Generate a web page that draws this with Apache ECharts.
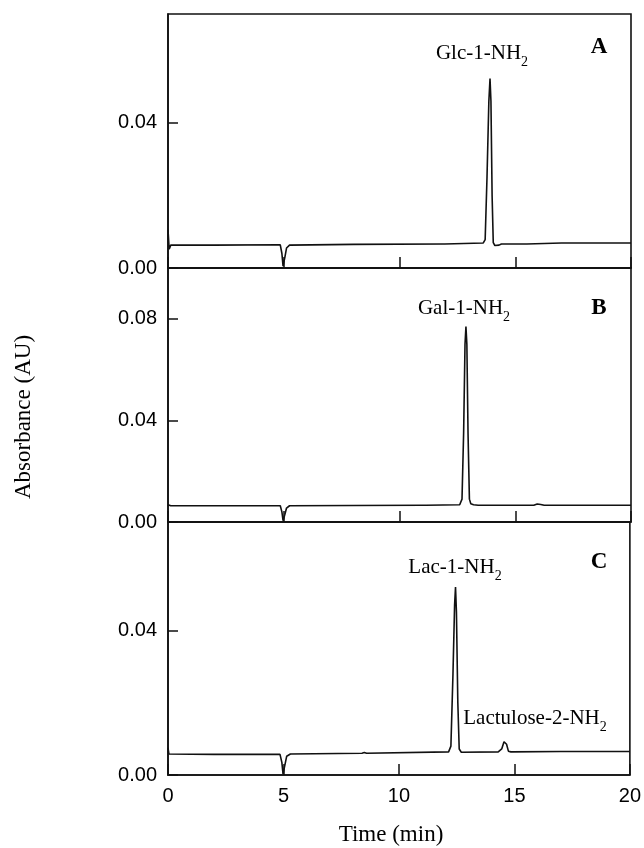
<!DOCTYPE html>
<html>
<head>
<meta charset="utf-8">
<script src="https://cdn.jsdelivr.net/npm/echarts@6/dist/echarts.min.js"></script>
<style>html,body{margin:0;padding:0;background:#fff;}#c{width:644px;height:848px;}</style>
</head>
<body>
<div id="c"></div>
<script>
// ---- data (time in min, absorbance in AU) ----
const xTicks = [0, 5, 10, 15, 20];
const yTicksA = [0.00, 0.04];
const yTicksB = [0.00, 0.04, 0.08];
const yTicksC = [0.00, 0.04];

const tA = [0, 0.05, 0.12, 2.0, 4.85, 4.92, 4.97, 5.0, 5.05, 5.12, 5.25, 8.0, 11.85, 11.9, 11.95, 13.62, 13.7, 13.78, 13.86, 13.91, 13.95, 14.0, 14.05, 14.12, 14.2, 14.3, 14.4, 15.5, 17.0, 20];
const yA = [0.0105, 0.0052, 0.0063, 0.0063, 0.0064, 0.0040, 0.0005, 0.0, 0.0030, 0.0055, 0.0063, 0.0065, 0.0066, 0.0071, 0.0066, 0.0069, 0.0078, 0.025, 0.046, 0.0522, 0.046, 0.020, 0.0070, 0.0062, 0.0065, 0.0063, 0.0066, 0.0066, 0.0069, 0.0069];

const tB = [0, 0.05, 0.12, 2.0, 4.85, 4.92, 4.97, 5.0, 5.05, 5.12, 5.25, 8.0, 11.0, 11.08, 11.15, 12.6, 12.7, 12.77, 12.83, 12.87, 12.91, 12.96, 13.02, 13.08, 13.2, 13.4, 15.8, 15.95, 16.02, 16.1, 16.25, 20];
const yB = [0.0068, 0.0064, 0.0064, 0.0064, 0.0064, 0.0040, 0.0005, 0.0, 0.0030, 0.0055, 0.0064, 0.0065, 0.0066, 0.0071, 0.0066, 0.0068, 0.0090, 0.035, 0.070, 0.077, 0.070, 0.035, 0.0090, 0.0072, 0.0068, 0.0066, 0.0066, 0.0071, 0.0072, 0.0069, 0.0066, 0.0066];

const tC = [0, 0.04, 0.1, 2.0, 4.85, 4.93, 4.98, 5.02, 5.07, 5.14, 5.3, 8.4, 8.5, 8.6, 12.15, 12.25, 12.34, 12.41, 12.45, 12.49, 12.55, 12.61, 12.7, 14.3, 14.45, 14.55, 14.6, 14.66, 14.74, 14.85, 17.0, 20];
const yC = [0.0075, 0.0058, 0.0056, 0.0057, 0.0057, 0.0035, 0.0003, 0.0, 0.0030, 0.0052, 0.0058, 0.0060, 0.0062, 0.0060, 0.0064, 0.0080, 0.028, 0.047, 0.052, 0.045, 0.020, 0.0072, 0.0063, 0.0064, 0.0072, 0.0092, 0.0097, 0.0085, 0.0066, 0.0064, 0.0065, 0.0065];

const peakNames = ['Glc-1-NH', 'Gal-1-NH', 'Lac-1-NH', 'Lactulose-2-NH'];
const panelLetters = ['A', 'B', 'C'];

// ---- chart ----
const chart = echarts.init(document.getElementById('c'), null, {renderer: 'canvas'});
const zip = (t, y) => t.map((v, i) => [v, y[i]]);
const black = '#111';
const grids = [
  {left: 168, width: 463, top: 14, height: 254},
  {left: 168, width: 463, top: 268, height: 254},
  {left: 168, width: 463, top: 522, height: 253}
];
const yMax = [0.07, 0.1, 0.07];
const ytickSets = [yTicksA, yTicksB, yTicksC];

const xAxes = grids.map((g, i) => ({
  type: 'value', gridIndex: i, min: xTicks[0], max: xTicks[xTicks.length - 1], interval: 5,
  axisLine: {show: true, lineStyle: {color: black, width: 1.6}},
  axisTick: {show: true, inside: true, length: 11, lineStyle: {color: black, width: 1.5}},
  axisLabel: {show: i === 2, margin: 11, color: '#000', fontSize: 20, fontFamily: 'Liberation Sans, Arial, sans-serif'},
  splitLine: {show: false}
}));
const yAxes = grids.map((g, i) => ({
  type: 'value', gridIndex: i, min: 0, max: yMax[i], interval: 0.04,
  axisLine: {show: true, lineStyle: {color: black, width: 1.6}},
  axisTick: {show: true, inside: true, length: 10, lineStyle: {color: black, width: 1.5}},
  axisLabel: {show: true, showMaxLabel: false, margin: 11, color: '#000', fontSize: 20,
    fontFamily: 'Liberation Sans, Arial, sans-serif',
    formatter: v => (ytickSets[i].some(t => Math.abs(t - v) < 1e-9) ? v.toFixed(2) : '')},
  splitLine: {show: false}
}));

const series = [zip(tA, yA), zip(tB, yB), zip(tC, yC)].map((d, i) => ({
  type: 'line', xAxisIndex: i, yAxisIndex: i, data: d, showSymbol: false, symbol: 'none',
  lineStyle: {color: black, width: 1.6}, animation: false, silent: true
}));

const serif = 'Liberation Serif, Times New Roman, serif';
const rich = {m: {fontSize: 21, fontFamily: serif, fill: '#000', color: '#000'},
              s: {fontSize: 14, fontFamily: serif, fill: '#000', color: '#000', padding: [19, 0, 0, 0]}};
function peakLabel(name, x, y) {
  return {type: 'text', x: x, y: y, silent: true,
    style: {text: '{m|' + name + '}{s|2}', rich: rich, align: 'center', verticalAlign: 'middle', fill: '#000'}};
}
function letter(t, x, y) {
  return {type: 'text', x: x, y: y, silent: true,
    style: {text: t, font: 'bold 23px ' + serif, align: 'center', verticalAlign: 'middle', fill: '#000'}};
}

const graphic = [
  peakLabel(peakNames[0], 482, 53),
  peakLabel(peakNames[1], 464, 308),
  peakLabel(peakNames[2], 455, 567),
  peakLabel(peakNames[3], 535, 718),
  letter(panelLetters[0], 599, 47),
  letter(panelLetters[1], 599, 308),
  letter(panelLetters[2], 599, 562),
  {type: 'text', x: 391, y: 835, silent: true,
    style: {text: 'Time (min)', font: '23px ' + serif, align: 'center', verticalAlign: 'middle', fill: '#000'}},
  {type: 'text', x: 24, y: 417, rotation: Math.PI / 2, silent: true,
    style: {text: 'Absorbance (AU)', font: '23px ' + serif, align: 'center', verticalAlign: 'middle', fill: '#000'}}
];

chart.setOption({
  animation: false,
  backgroundColor: '#fff',
  grid: grids.map(g => Object.assign({show: true, borderColor: black, borderWidth: 1.6, backgroundColor: 'transparent'}, g)),
  xAxis: xAxes,
  yAxis: yAxes,
  series: series,
  graphic: graphic
});
</script>
</body>
</html>
